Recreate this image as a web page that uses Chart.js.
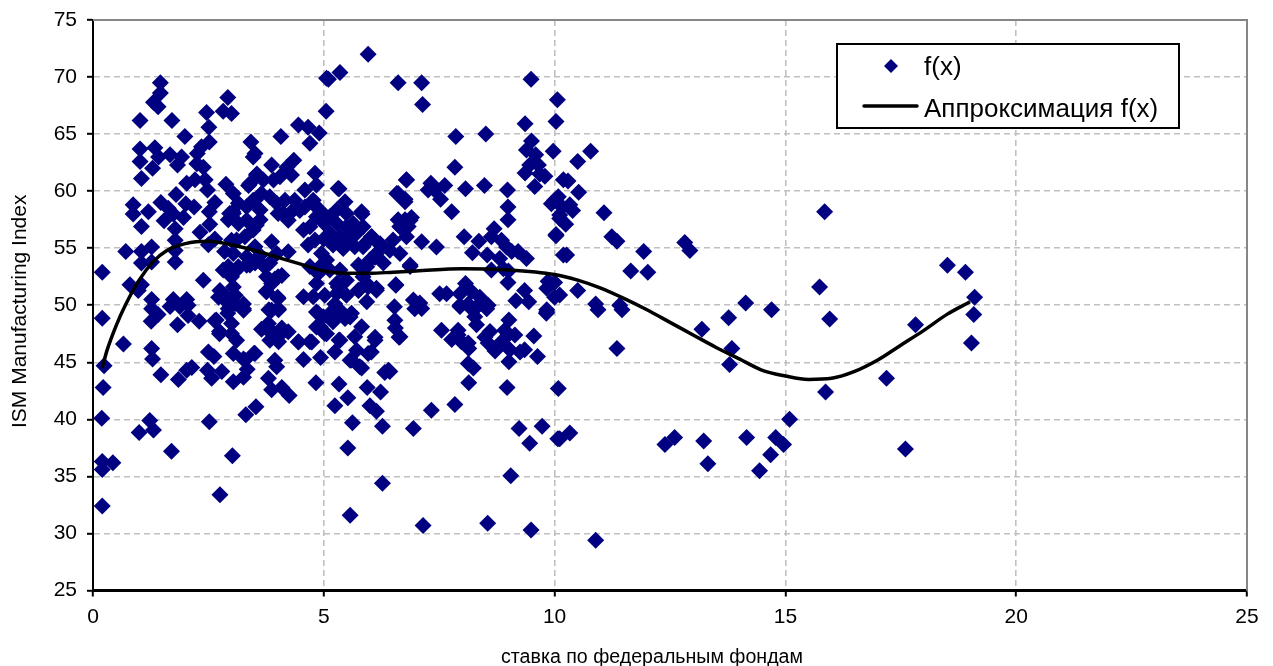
<!DOCTYPE html>
<html>
<head>
<meta charset="utf-8">
<style>html,body{margin:0;padding:0;background:#fff}canvas{display:block}</style>
<script src="https://cdn.jsdelivr.net/npm/chart.js@4"></script>
</head>
<body>
<div style="width:1273px;height:666px"><canvas id="c" width="1273" height="666"></canvas></div>
<script>
const xAxisTitle = 'ставка по федеральным фондам';
const yAxisTitle = 'ISM Manufacturing Index';
const scatterLabel = 'f(x)';
const curveLabel = 'Аппроксимация f(x)';
const xRange = [0, 25, 5];
const yRange = [25, 75, 5];

const scatterPoints = [
[1.46,69.5],[1.46,68.6],[1.31,67.8],[1.41,67.4],[1.02,66.2],[1.71,66.2],[1.99,64.8],[2.46,66.9],[2.51,65.6],[2.52,64.3],
[2.35,63.9],[2.26,63.3],[2.92,68.2],[2.82,67],[3.0,66.8],[1.02,63.7],[1.34,63.8],[1.02,62.6],[1.42,63],[1.67,63.2],
[1.92,63],[1.29,62],[1.83,62.3],[1.05,61.1],[2.25,62.4],[2.39,62.1],[2.03,60.7],[2.21,61],[2.43,61],[2.48,60.1],
[2.88,60.6],[1.8,59.7],[0.87,58.8],[0.87,58],[1.2,58.2],[1.05,56.9],[1.47,59],[1.63,58.5],[1.54,57.4],
[1.74,58],[1.96,57.7],[2.01,58.9],[2.19,58.6],[2.64,59],[2.52,58.2],[2.53,57.1],[2.93,57.5],
[1.78,56.7],[1.78,55.7],[2.32,56.4],[2.64,55.8],[2.5,55.3],[0.71,54.7],[1.05,54.7],[1.27,55.1],[1.05,53.7],[1.27,53.8],
[1.78,54.8],[1.78,53.8],[0.2,52.9],[0.8,51.8],[1.05,51.8],[0.98,51.3],[2.39,52.2],[2.93,53.4],[2.82,53.1],
[2.75,51.3],[2.9,50.7],[2.72,50.7],[2.85,54.7],
[3.42,64.3],[3.51,63.3],[3.47,63],[3.87,62.3],[4.2,62.1],[4.35,62.7],[4.07,64.8],[4.45,65.8],[4.66,65.6],[4.9,65.1],[4.7,64.2],[5.06,69.9],[5.05,67],
[0.2,48.85],[0.66,46.6],[1.27,46.2],[1.29,45.3],[0.24,44.7],[1.47,43.9],[1.85,43.5],[2.03,44.3],[2.14,44.55],[2.48,44.3],
[2.57,43.6],[2.79,44.2],[2.5,45.9],[2.62,45.5],[3.34,44.4],[3.26,43.7],[3.04,43.3],
[3.8,43.6],[3.87,42.6],[4.09,42.8],[4.25,42.1],[4.83,43.2],[0.22,42.8],[0.19,40.1],[1.23,39.9],[1.31,39.06],[1.0,38.85],[2.52,39.8],[3.31,40.4],[3.53,41.1],[1.7,37.2],
[3.02,36.8],[0.2,36.3],[0.43,36.2],[0.2,35.6],[2.75,33.4],[0.2,32.4],[1.26,48.6],[1.41,49.2],[1.27,49.7],[1.27,50.5],
[1.83,48.3],[1.67,49.9],[1.88,49.9],[2.06,50],[2.06,49.1],[1.74,50.5],[2.03,50.5],[2.3,48.6],[2.64,48.65],[2.74,47.7],
[2.93,49.7],
[5.96,72],[5.35,70.4],[5.1,69.8],[6.61,69.5],[7.12,69.5],[7.14,67.6],[7.86,64.8],[8.51,65],[7.84,62.1],[9.36,65.9],
[9.49,69.8],[9.5,64.4],[9.39,63.6],[9.59,63.2],[9.46,62.3],[9.65,62.3],[9.36,61.6],[9.79,61.3],[9.57,60.4],[9.68,61.5],
[9.97,63.5],[10.03,66.1],[10.06,68],[7.32,60.7],[7.62,60.5],[7.4,60.1],[7.53,59.3],
[7.77,58.2],[8.07,60.2],[8.48,60.5],[8.98,60.1],[8.99,58.6],[8.99,57.5],[10.0,59.2],
[10.08,59.5],[9.93,58.9],[10.11,57.6],[10.03,56.1],[10.19,54.4],[10.19,61],[7.44,55.1],[8.04,56],[8.36,55.6],[8.22,54.6],[8.54,54.4],[8.69,56.7],[8.63,56],
[8.85,55.7],[8.96,55.1],[9.21,54.7],[9.39,54.1],[9.07,54.7],[8.81,54.1],[8.63,53.1],[8.89,53.2],[8.99,52],[9.86,52.1],
[9.83,51.5],[10,50.7],[9.44,50.3],[9.83,49.6],
[7.51,51],[7.66,51],[7.95,51],[8.07,51.9],[8.2,51.2],[8.38,50.7],[8.56,50],[7.95,50],[8.13,50.1],[8.35,50],
[7.55,47.8],[7.91,47.8],[7.77,47],[7.98,46.8],[7.91,47.4],[8.13,46.7],[8.31,48.3],[7.95,49.9],[8.2,49.7],[8.35,50],[8.53,49.7],
[8.27,49],[9.01,48.7],[9.82,49.3],[9.55,47.3],[9.63,45.5],[8.6,47.7],[8.49,47.2],[8.56,46.7],[8.71,46],[8.99,47.4],
[8.85,46.8],[9.03,46.1],[9.25,45.9],[9.01,45.05],[8.14,46.2],[8.13,44.9],[8.24,44.5],[8.14,43.2],[8.97,42.8],[10.08,42.7],
[7.33,40.8],[7.84,41.3],[6.94,39.2],[6.27,39.4],[5.62,39.7],[9.23,39.2],[9.73,39.4],[9.46,37.9],[10.11,38.3],[5.52,37.5],
[6.27,34.4],[9.05,35.05],[5.57,31.6],[7.15,30.7],[8.55,30.9],[9.49,30.3],[6.32,44.1],[6.43,44.2],[6.23,42.4],[5.94,42.8],
[6,41.2],[6.14,40.7],[5.33,43.1],[5.52,41.9],[5.24,41.2],[10.78,63.5],[10.5,62.6],[10.29,60.9],[10.52,59.9],[10.33,58.8],[10.03,59.2],[10.16,58.6],
[10.39,58.3],[10.11,57.9],[11.07,58.1],[10.24,57.1],[10.03,56.2],[10.26,54.4],[11.24,56],[11.35,55.6],[11.93,54.7],[12.02,52.9],
[11.65,53],[12.82,55.5],[12.93,54.8],[10.5,51.3],[10,52],[10.11,50.9],[10.89,50.1],[10.94,49.6],[11.41,50],[11.46,49.6],
[11.35,46.2],[9.83,49.4],[13.19,47.9],[13.77,48.9],[14.14,50.2],[14.7,49.6],[13.84,46.2],[13.79,44.8],[14.16,38.4],[13.23,38.1],
[13.32,36.1],[12.6,38.4],[12.39,37.8],[14.44,35.5],[14.68,36.9],[14.79,38.4],[14.96,37.8],[15.09,40],[10.89,29.4],[10.07,38.3],
[10.33,38.8],[15.74,51.6],[15.85,58.2],[15.96,48.8],[15.87,42.4],[17.19,43.6],[17.6,37.4],[17.82,48.3],[18.51,53.5],[18.9,52.9],
[19.1,50.7],[19.08,49.2],[19.03,46.7],[9,53],[9.16,50.4],[9.35,51.3],[9.14,47.4],[8.92,47.8],[9.35,46.1],
[3.54,61.41],[3.40,60.68],[4.05,61.27],[3.91,60.97],[4.30,61.41],[4.81,61.56],[4.84,60.53],[4.59,60.1],[3.04,59.8],[5.31,60.24],
[6.79,60.97],[6.61,59.8],[6.76,59.07],[7.26,60.1],[3.51,59.2],[3.83,59.5],[3.65,59.8],[4.16,59.2],[4.37,59.2],[4.12,58.05],
[4.23,57.46],[5.46,59.07],[5.82,58.2],[4.77,58.9],[4.59,58.6],[4.84,57.76],[5.28,58.34],[5.49,58.05],[5.64,57.17],[5.28,57.17],
[5.49,56.88],[5.35,56],[5.13,56.3],[4.70,56.88],[4.56,56.59],[4.81,55.71],[4.66,55.27],[4.95,54.54],[5.49,55.71],[5.67,55.13],
[6.04,56],[5.85,55.13],[6.14,54.54],[6,53.96],[6.22,55.27],[6.65,56.88],[6.87,57.46],[6.50,55.71],[6.79,56],[7.12,55.56],
[6.65,54.54],[6.43,54.83],[6.87,53.52],[5.85,56.88],[5.71,56.3],[3.87,55.56],[3.51,55.13],[3.33,54.25],[3.62,54.39],[3.98,54.54],
[4.23,54.69],[3.11,55.71],[3.04,58.05],[3.54,57.03],[3.33,57.46],[3.04,54.54],[3.15,53.37],[3.40,53.52],[3.72,53.37],[4.01,52.49],
[3.76,51.18],[4.01,50.59],[3.87,51.91],[3.11,53.08],[4.88,52.79],[5.13,53.08],[5.35,53.08],[5.85,52.49],[5.93,53.37],[4.84,51.91],
[5.49,52.2],[5.28,51.91],[6.14,51.32],[5.93,50.3],[4.56,50.74],[4.77,50.74],[5.49,50.88],[5.28,51.03],[6.56,51.76],[6.94,50.45],
[7.12,49.72],[6.53,49.86],[6.54,48.69],[6.65,47.23],[4.88,49.28],[5.13,49.28],[5.35,49.57],[5.57,48.98],[4.92,48.11],[5.82,48.11],
[5.02,47.52],[3.76,47.96],[4.01,47.23],[4.23,47.67],[3.83,46.94],[3.26,49.57],[3.08,50.88],[3.08,50.15],[3.11,46.94],[3.87,49.57],
[4.01,49.72],[4.45,46.79],[4.74,46.79],[5.35,46.94],[5.24,45.91],[5.67,47.23],[6.11,46.94],[5.71,46.06],[5.96,45.77],[5.57,45.18],
[5.78,44.6],[3.51,45.77],[3.29,45.18],[3.94,45.18],[3.98,44.6],[4.56,45.24],[4.93,45.42],[3.04,45.77],[6.40,44.3],[5.13,57.76],
[5.2,55.27],[5.42,54.98],[5.6,56.15],[5.06,53.96],[5.75,53.52],[4.01,58.05],[3.98,58.93],[4.3,58.2],[3.29,56],[3.15,57.17],
[3.62,58.34],[3.33,58.63],[3.15,58.93],[3.69,60.97],[5.75,51.32],[5.93,51.91],[5.02,50.88],[5.2,48.55],[5.46,48.84],
[2.92,50.2],[2.92,49.3],[2.67,48.7],[2.74,47.5],[2.96,58.05],[3,55.7],[2.92,53.1],[3.0,52.5],[3.04,51.6],[3,48.4],[3,47.5],[3.03,58.2],[3.26,50.1],
[3.33,53.5],[3.51,53.7],[3.76,52.5],[3.94,52.3],[4.09,52.6],[3.83,53.7],[3.75,51.2],[4.0,50.7],[3.65,47.9],[3.8,48.4],[3.9,47.6],[4.09,48],[4.02,46.8],
[3.26,49.7],[4.02,49.6],[4.84,49.4],[4.99,49],[4.84,48.1],[5.06,47.5],[3.81,49.6],[4.45,46.8],[4.7,46.8],[3.49,45.8],[3.26,45.3],[3.55,61.5],[3.37,60.5],
[3.47,59.2],[3.62,57.5],[3.47,56.6],[4.48,58.3],[4.77,59.2],[4.92,58.3],[5,57.2],[5,55.8],[4.7,53.4],[4.92,53.4],[5.24,50.1],[5.31,51.6],[5.6,49.3],
[5.17,49],[5.33,46.95],[5.82,44.5],[5.6,45.2],[6.11,47.2],[6.03,45.9],[6.55,48],[6.63,47.2],[6.97,49.7],[7.08,50.2],[6.87,53.4],[6.56,51.8],[6.9,57.7],
[6.76,57.5],[6.61,57.5],[6.83,56.9],[6.65,56.9],[6.58,59.8],[6.76,59.3],[6.79,61],[5.33,60.2],[5.83,58],[6.03,56],[5.89,55.4],[6.22,55.4],[6.11,54.2],
[6.29,53.7],[5.96,51.6],[6.14,51.5],[5.75,51.3]
];

const curvePoints = [
[0.2,44.5],[0.3,46],[0.5,48.2],[0.7,50],[1,52.2],[1.3,53.8],[1.6,54.8],[2,55.4],[2.5,55.6],[3,55.3],
[3.5,54.8],[4,54.2],[4.5,53.6],[5,53],[5.5,52.8],[6,52.8],[6.5,52.9],[7,53],[8,53.2],[9,53.1],
[10,52.7],[10.5,52.2],[11,51.5],[11.5,50.6],[12,49.6],[12.5,48.5],[13,47.4],[13.5,46.3],[14,45.3],[14.5,44.3],
[15,43.8],[15.5,43.5],[16,43.6],[16.5,44.2],[17,45.2],[17.5,46.5],[18,47.8],[18.5,49.2],[19,50.3]
];

const toXY = p => ({x: p[0], y: p[1]});
const FONT = '"Liberation Sans", Arial, sans-serif';

function shiftTitle(scale, dStart, dEnd) {
  if (scale._shifted) return;
  scale._shifted = true;
  const orig = scale.drawTitle;
  scale.drawTitle = function () {
    if (this.isHorizontal()) {
      const l = this.left, r = this.right;
      this.left = l + dStart; this.right = r + dEnd;
      orig.call(this);
      this.left = l; this.right = r;
    } else {
      const t = this.top, b = this.bottom;
      this.top = t + dStart; this.bottom = b + dEnd;
      orig.call(this);
      this.top = t; this.bottom = b;
    }
  };
}

const frame = {
  id: 'frame',
  beforeDatasetsDraw(chart) {
    const a = chart.chartArea, c = chart.ctx;
    c.save();
    c.strokeStyle = '#868686'; c.lineWidth = 2;
    c.beginPath(); c.moveTo(a.left, a.top); c.lineTo(a.right, a.top); c.lineTo(a.right, a.bottom); c.stroke();
    c.restore();
  },
  afterDatasetsDraw(chart) {
    const c = chart.ctx, ds = chart.data.datasets;
    c.save();
    c.fillStyle = '#fff'; c.strokeStyle = '#000'; c.lineWidth = 2;
    c.fillRect(837, 44, 342, 84); c.strokeRect(837, 44, 342, 84);
    c.fillStyle = ds[0].pointBackgroundColor;
    c.beginPath(); c.moveTo(884,66); c.lineTo(891,59); c.lineTo(898,66); c.lineTo(891,73); c.closePath(); c.fill();
    c.strokeStyle = '#000'; c.lineWidth = 3.5; c.lineCap = 'round';
    c.beginPath(); c.moveTo(864,106); c.lineTo(917,106); c.stroke();
    c.fillStyle = '#000'; c.font = '26px ' + FONT; c.textBaseline = 'alphabetic'; c.textAlign = 'left';
    c.fillText(ds[0].label, 924, 75);
    c.fillText(ds[1].label, 924, 117);
    c.restore();
  }
};

new Chart(document.getElementById('c'), {
  type: 'scatter',
  plugins: [frame],
  data: {
    datasets: [
      {label: scatterLabel, data: scatterPoints.map(toXY), pointStyle: 'rectRot', pointRadius: 8.5,
       pointBackgroundColor: '#000080', pointBorderWidth: 0, showLine: false, order: 2},
      {label: curveLabel, data: curvePoints.map(toXY), showLine: true, pointRadius: 0, borderColor: '#000',
       borderWidth: 3.5, tension: 0.4, cubicInterpolationMode: 'monotone', order: 1}
    ]
  },
  options: {
    responsive: false, animation: false,
    layout: {padding: {top: 20, right: 26, left: 0, bottom: 0}},
    plugins: {legend: {display: false}, tooltip: {enabled: false}},
    scales: {
      x: {
        type: 'linear', min: xRange[0], max: xRange[1],
        afterFit(s) { s.height = 75.5; s.paddingLeft = 0; s.paddingRight = 0; },
        afterUpdate(s) { shiftTitle(s, 0, -36); },
        ticks: {stepSize: xRange[2], color: '#000', font: {family: FONT, size: 21}, padding: 8, maxRotation: 0},
        grid: {color: '#c0c0c0', lineWidth: 1.6, tickColor: '#000', tickLength: 6, tickWidth: 2},
        border: {display: true, color: '#000', width: 3, dash: [6, 4]},
        title: {display: true, text: xAxisTitle, color: '#000', font: {family: FONT, size: 19.6}, padding: {top: 0, bottom: -3}}
      },
      y: {
        type: 'linear', min: yRange[0], max: yRange[1],
        afterFit(s) { s.width = 93; s.paddingTop = 0; s.paddingBottom = 0; },
        afterUpdate(s) { shiftTitle(s, 6, 6); },
        ticks: {stepSize: yRange[2], color: '#000', font: {family: FONT, size: 21}, padding: 10},
        grid: {color: '#c0c0c0', lineWidth: 1.6, tickColor: '#000', tickLength: 6, tickWidth: 2},
        border: {display: true, color: '#000', width: 2, dash: [6, 4]},
        title: {display: true, text: yAxisTitle, color: '#000', font: {family: FONT, size: 21}, padding: {top: 8, bottom: 0}}
      }
    }
  }
});
</script>
</body>
</html>
